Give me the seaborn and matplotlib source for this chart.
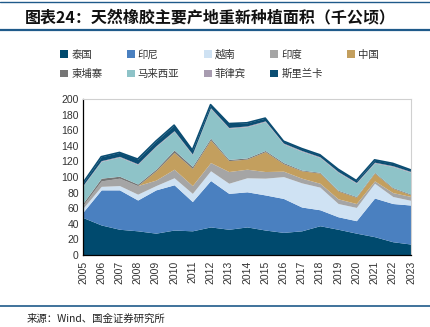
import numpy as np
import pandas as pd
import matplotlib
matplotlib.use("Agg")
import matplotlib.pyplot as plt
from matplotlib.lines import Line2D
from matplotlib.patches import Patch
import seaborn as sns

sns.set_style("white")
plt.rcParams['font.family'] = ['Noto Sans CJK SC', 'DejaVu Sans']

years = list(range(2005, 2024))
series_names = ["泰国", "印尼", "越南", "印度", "中国", "柬埔寨", "马来西亚", "菲律宾", "斯里兰卡"]
thailand    = [48, 38.5, 33, 31, 28, 32, 31, 36, 33, 36, 32, 29, 31, 37.5, 33, 28, 23.5, 17, 14]
indonesia   = [7, 45, 50.5, 39.5, 55.5, 58, 37.5, 59.5, 46, 45, 45, 43.5, 30.5, 20.5, 16, 16, 49.5, 49, 50]
vietnam     = [5, 4.5, 5.5, 7.5, 5.5, 9, 10.5, 12.5, 13, 18, 21.5, 28, 31, 29, 17, 17, 19, 9, 6]
india       = [4, 7, 9.5, 11, 7, 11, 10, 10.5, 15, 11, 8.5, 7, 6, 5, 6, 5, 3, 5, 5]
china       = [0, 0, 0, 0, 12, 21.5, 22, 29, 14, 13, 25.5, 9.5, 9.5, 13, 10, 8, 10, 5.5, 2]
cambodia    = [2.5, 3.5, 2.5, 2, 2, 3, 2.5, 2.3, 1.5, 1.5, 1.5, 1.5, 1, 1, 1, 1, 1, 1, 1]
malaysia    = [22, 21.5, 24.5, 25, 29, 24, 15, 38, 40, 40, 37, 24, 24, 19, 23, 17, 12, 27, 28]
philippines = [1, 1, 1, 1, 1, 1, 1, 1, 1, 1, 1, 1, 1, 1, 1, 1, 1, 1, 1]
srilanka    = [3, 5, 5, 6, 6, 7, 5, 4, 5, 4, 3.5, 2.5, 2.5, 2.5, 3, 2.5, 3, 3, 2]

colors = ["#004a6e", "#4a80c0", "#cfe2f3", "#a5a5a5", "#c39f5e",
          "#767676", "#8ec3c8", "#a89cb0", "#0b4d72"]

df = pd.DataFrame({"year": years, "泰国": thailand, "印尼": indonesia, "越南": vietnam,
                   "印度": india, "中国": china, "柬埔寨": cambodia, "马来西亚": malaysia,
                   "菲律宾": philippines, "斯里兰卡": srilanka})

W, H = 431, 327
fig = plt.figure(figsize=(W / 100, H / 100), dpi=100)
ax = fig.add_axes([83 / W, (H - 255) / H, (411 - 83) / W, (255 - 99) / H])

ax.stackplot(df["year"], [df[n] for n in series_names], colors=colors, linewidth=0)
total = df[series_names].sum(axis=1)
sns.lineplot(x=df["year"], y=total, ax=ax, color="#0b4d72", linewidth=1.2)

ax.set_xlim(2005, 2023)
ax.set_ylim(0, 200)
ax.set_xticks(years)
ax.set_xticklabels([str(y) for y in years], rotation=90, family=['Liberation Sans'], fontsize=7.5, color="#333333")
ax.set_yticks(range(0, 201, 20))
ax.set_yticklabels([str(v) for v in range(0, 201, 20)], family=['Liberation Sans'], fontsize=7.5, color="#333333")
ax.set_xlabel("")
ax.set_ylabel("")
ax.tick_params(axis='both', direction='in', length=3, width=0.8, color="#000000", pad=3)
ax.tick_params(axis='x', pad=4)
for s in ["top", "right"]:
    ax.spines[s].set_color("#d0d0d0")
    ax.spines[s].set_linewidth(0.8)
for s in ["left", "bottom"]:
    ax.spines[s].set_color("#000000")
    ax.spines[s].set_linewidth(0.9)

handles = [Patch(facecolor=c, edgecolor='none') for c in colors]
order = [0, 5, 1, 6, 2, 7, 3, 8, 4]
leg = fig.legend([handles[i] for i in order], [series_names[i] for i in order],
                 ncol=5, loc="upper left", bbox_to_anchor=(51 / W, 1 - 40 / H),
                 frameon=False, fontsize=7.5, handlelength=0.75, handleheight=0.75,
                 handletextpad=0.3, columnspacing=2.35, labelspacing=0.9)
for t in leg.get_texts():
    t.set_color("#333333")

fig.text(25 / W, 1 - 17 / H, "图表24：天然橡胶主要产地重新种植面积（千公顷）",
         fontsize=11.5, fontweight='bold', style='italic', va='center', ha='left', color="#111111")
fig.add_artist(Line2D([0, 1], [1 - 2 / H, 1 - 2 / H], color="#1f5a8a", linewidth=1.0))
fig.add_artist(Line2D([0, 1], [1 - 30 / H, 1 - 30 / H], color="#1f5a8a", linewidth=1.6))
fig.add_artist(Line2D([0, 1], [1 - 306 / H, 1 - 306 / H], color="#1f5a8a", linewidth=1.2))
fig.text(27 / W, 1 - 319 / H, "来源：Wind、国金证券研究所", fontsize=7.5, va='center', ha='left', color="#222222")

fig.savefig("out.png", dpi=100)
